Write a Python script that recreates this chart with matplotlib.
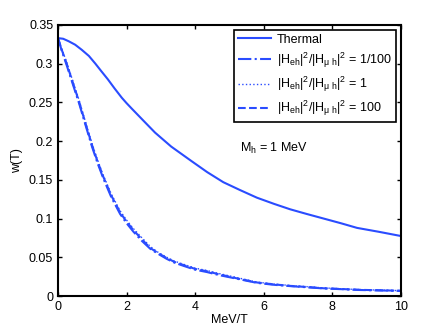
import numpy as np
import matplotlib
matplotlib.use('Agg')
import matplotlib.pyplot as plt

plt.rcParams['font.family'] = ['Liberation Sans', 'DejaVu Sans']
plt.rcParams['mathtext.fontset'] = 'custom'
plt.rcParams['mathtext.rm'] = 'Liberation Sans'
plt.rcParams['mathtext.it'] = 'Liberation Sans'
plt.rcParams['mathtext.sf'] = 'Liberation Sans'

# thermal curve
t_th = [0, 0.15, 0.31, 0.5, 0.69, 0.9, 1.09, 1.25, 1.45, 1.65, 1.86, 2.0, 2.15, 2.5, 2.83,
        3.3, 3.9, 4.35, 4.82, 5.3, 5.8, 6.3, 6.77, 7.25, 7.75, 8.25, 8.72, 9.35, 10]
w_th = [0.333, 0.3322, 0.329, 0.3245, 0.318, 0.310, 0.300, 0.291, 0.280, 0.268, 0.256, 0.249,
        0.242, 0.226, 0.211, 0.193, 0.174, 0.160, 0.147, 0.137, 0.127, 0.119, 0.112, 0.106,
        0.100, 0.094, 0.088, 0.083, 0.0775]

# the three ratio curves (almost on top of each other)
t_r = [0, 0.1, 0.26, 0.45, 0.62, 0.8, 0.99, 1.15, 1.32, 1.55, 1.81, 2.0, 2.2, 2.45, 2.69,
       2.9, 3.17, 3.4, 3.66, 4.0, 4.34, 4.7, 5.2, 5.8, 6.3, 6.8, 7.3, 7.75, 8.3, 8.8, 9.4, 10]
w_r1 = [0.333, 0.318, 0.297, 0.271, 0.248, 0.221, 0.193, 0.172, 0.152, 0.128, 0.106, 0.094,
        0.083, 0.071, 0.061, 0.055, 0.048, 0.043, 0.039, 0.034, 0.031, 0.027, 0.0225, 0.017,
        0.0145, 0.0127, 0.0112, 0.0098, 0.0088, 0.0078, 0.0072, 0.0066]
w_r2 = [0.333, 0.320, 0.301, 0.275, 0.252, 0.225, 0.197, 0.176, 0.156, 0.132, 0.110, 0.098,
        0.087, 0.075, 0.064, 0.057, 0.050, 0.045, 0.041, 0.036, 0.033, 0.029, 0.024, 0.018,
        0.0155, 0.0135, 0.012, 0.0105, 0.0093, 0.0083, 0.0076, 0.0070]
w_r3 = [0.333, 0.319, 0.299, 0.273, 0.250, 0.223, 0.195, 0.174, 0.154, 0.130, 0.108, 0.096,
        0.085, 0.073, 0.062, 0.056, 0.049, 0.044, 0.040, 0.035, 0.032, 0.028, 0.023, 0.0175,
        0.015, 0.013, 0.0115, 0.010, 0.009, 0.008, 0.0074, 0.0068]

labels = ['Thermal',
          r'$|\mathrm{H}_{\mathrm{eh}}|^2/|\mathrm{H}_{\mu\ \mathrm{h}}|^2$ = 1/100',
          r'$|\mathrm{H}_{\mathrm{eh}}|^2/|\mathrm{H}_{\mu\ \mathrm{h}}|^2$ = 1',
          r'$|\mathrm{H}_{\mathrm{eh}}|^2/|\mathrm{H}_{\mu\ \mathrm{h}}|^2$ = 100']

blue = '#2a4cff'

fig = plt.figure(figsize=(4.43, 3.33), dpi=100)
ax = fig.add_axes([0.131, 0.111, 0.774, 0.814])

ax.plot(t_th, w_th, '-', color=blue, lw=1.5, label=labels[0])
ax.plot(t_r, w_r1, '-.', color=blue, lw=1.5, label=labels[1])
ax.plot(t_r, w_r2, ':', color=blue, lw=1.0, label=labels[2])
ax.plot(t_r, w_r3, '--', color=blue, lw=1.5, label=labels[3])

ax.set_xlim(0, 10)
ax.set_ylim(0, 0.35)
ax.set_xticks([0, 2, 4, 6, 8, 10])
ax.set_yticks([0, 0.05, 0.1, 0.15, 0.2, 0.25, 0.3, 0.35])
ax.set_yticklabels(['0', '0.05', '0.1', '0.15', '0.2', '0.25', '0.3', '0.35'])
ax.tick_params(direction='in', top=True, right=True, labelsize=9, length=3, width=1)
for s in ax.spines.values():
    s.set_linewidth(1.5)

ax.set_xlabel('MeV/T', fontsize=9, labelpad=1)
ax.set_ylabel('w(T)', fontsize=9, labelpad=4)

ax.text(5.3, 0.186, r'M$_\mathrm{h}$ = 1 MeV', fontsize=9)

leg = ax.legend(loc='upper right', fontsize=9, fancybox=False, edgecolor='black',
                framealpha=1, handlelength=2.6, handletextpad=0.5, borderaxespad=0.4,
                labelspacing=0.4, borderpad=0.3)
leg.get_frame().set_linewidth(1.2)

fig.savefig('out.png', dpi=100)
